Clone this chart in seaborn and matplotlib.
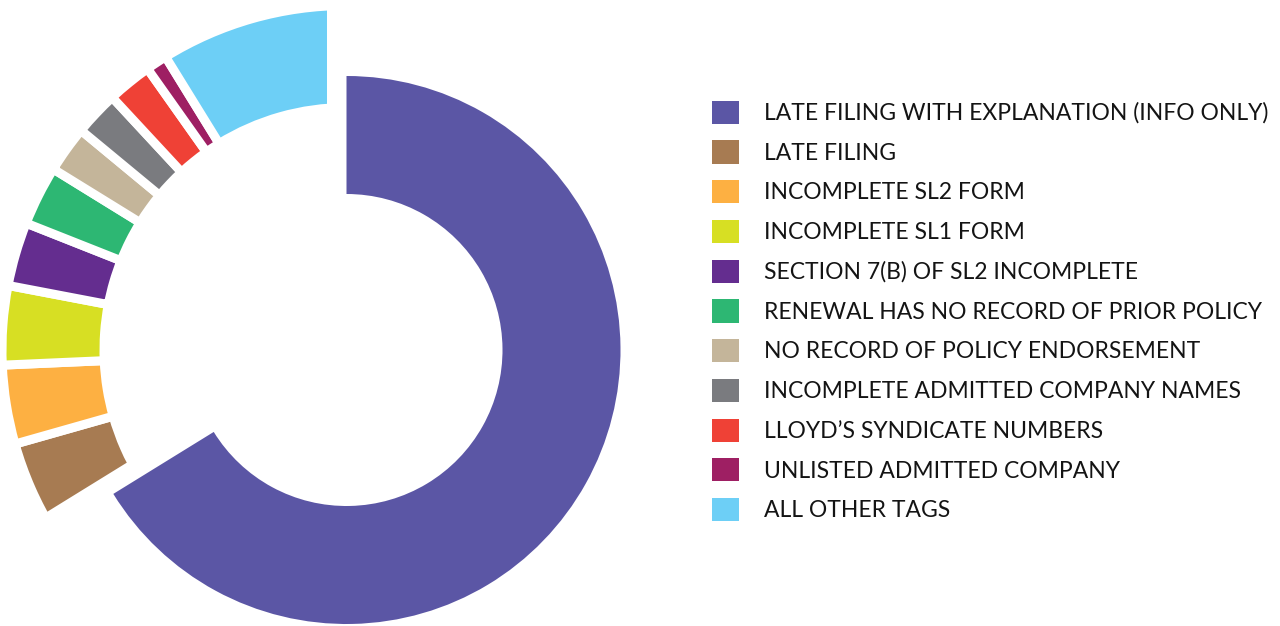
import matplotlib
matplotlib.use("Agg")
import matplotlib.pyplot as plt
from matplotlib.patches import Patch
import seaborn as sns

# share of tagged filings (percent)
tags = [
    "LATE FILING WITH EXPLANATION (INFO ONLY)",
    "LATE FILING",
    "INCOMPLETE SL2 FORM",
    "INCOMPLETE SL1 FORM",
    "SECTION 7(B) OF SL2 INCOMPLETE",
    "RENEWAL HAS NO RECORD OF PRIOR POLICY",
    "NO RECORD OF POLICY ENDORSEMENT",
    "INCOMPLETE ADMITTED COMPANY NAMES",
    "LLOYD\u2019S SYNDICATE NUMBERS",
    "UNLISTED ADMITTED COMPANY",
    "ALL OTHER TAGS",
]
share = [66.2, 4.4, 3.7, 3.7, 3.0, 2.8, 2.2, 2.1, 2.1, 1.0, 8.8]
colors = ["#5B56A5", "#A77B52", "#FDB042", "#D7DF23", "#642D8F", "#2DB773",
          "#C4B59A", "#7A7B7F", "#EF4136", "#9E1F63", "#6DCFF6"]

sns.set_theme(style="white")
plt.rcParams["font.family"] = ["Lato", "DejaVu Sans"]

W, H = 1280, 626
fig = plt.figure(figsize=(W / 100, H / 100), dpi=100)
ax = fig.add_axes([0, 0, 1, 1])

px = 72 / 100  # points per pixel
cx, cy = 346.5, H - 350

# outer ring: the smaller tags, separated by white gaps
outer, _ = ax.pie(share, colors=colors, startangle=90, counterclock=False,
                  radius=344.5, center=(cx, cy), frame=True,
                  wedgeprops=dict(width=102, edgecolor="white", linewidth=9 * px))
# the main tag is not part of this ring; its white outline opens the wider gap
outer[0].set_facecolor("none")
outer[0].set_linewidth(39 * px)
outer[0].set_zorder(3)

# inner ring: only the main tag
inner, _ = ax.pie(share, colors=colors, startangle=90, counterclock=False,
                  radius=274, center=(cx, cy), frame=True,
                  wedgeprops=dict(width=118, linewidth=0))
for w in inner[1:]:
    w.set_visible(False)
inner[0].set_zorder(4)

ax.set_xlim(0, W)
ax.set_ylim(0, H)
ax.set_aspect("equal")
ax.axis("off")

# size the legend text so the longest label spans about 503 px
probe = fig.text(0, 0, tags[0], fontsize=10)
wpx = probe.get_window_extent(renderer=fig.canvas.get_renderer()).width
probe.remove()
fs = 10 * 497 / wpx
fpx = fs / px

handles = [Patch(facecolor=c, edgecolor="none") for c in colors]
fig.legend(handles, tags, loc="center left", bbox_to_anchor=(712 / W, 1 - 311 / H),
           frameon=False, fontsize=fs, borderpad=0, borderaxespad=0,
           handlelength=27 / fpx, handleheight=27 / fpx,
           handletextpad=25 / fpx, labelspacing=0.72, labelcolor="#141414")

fig.savefig("out.png", dpi=100, facecolor="white")
